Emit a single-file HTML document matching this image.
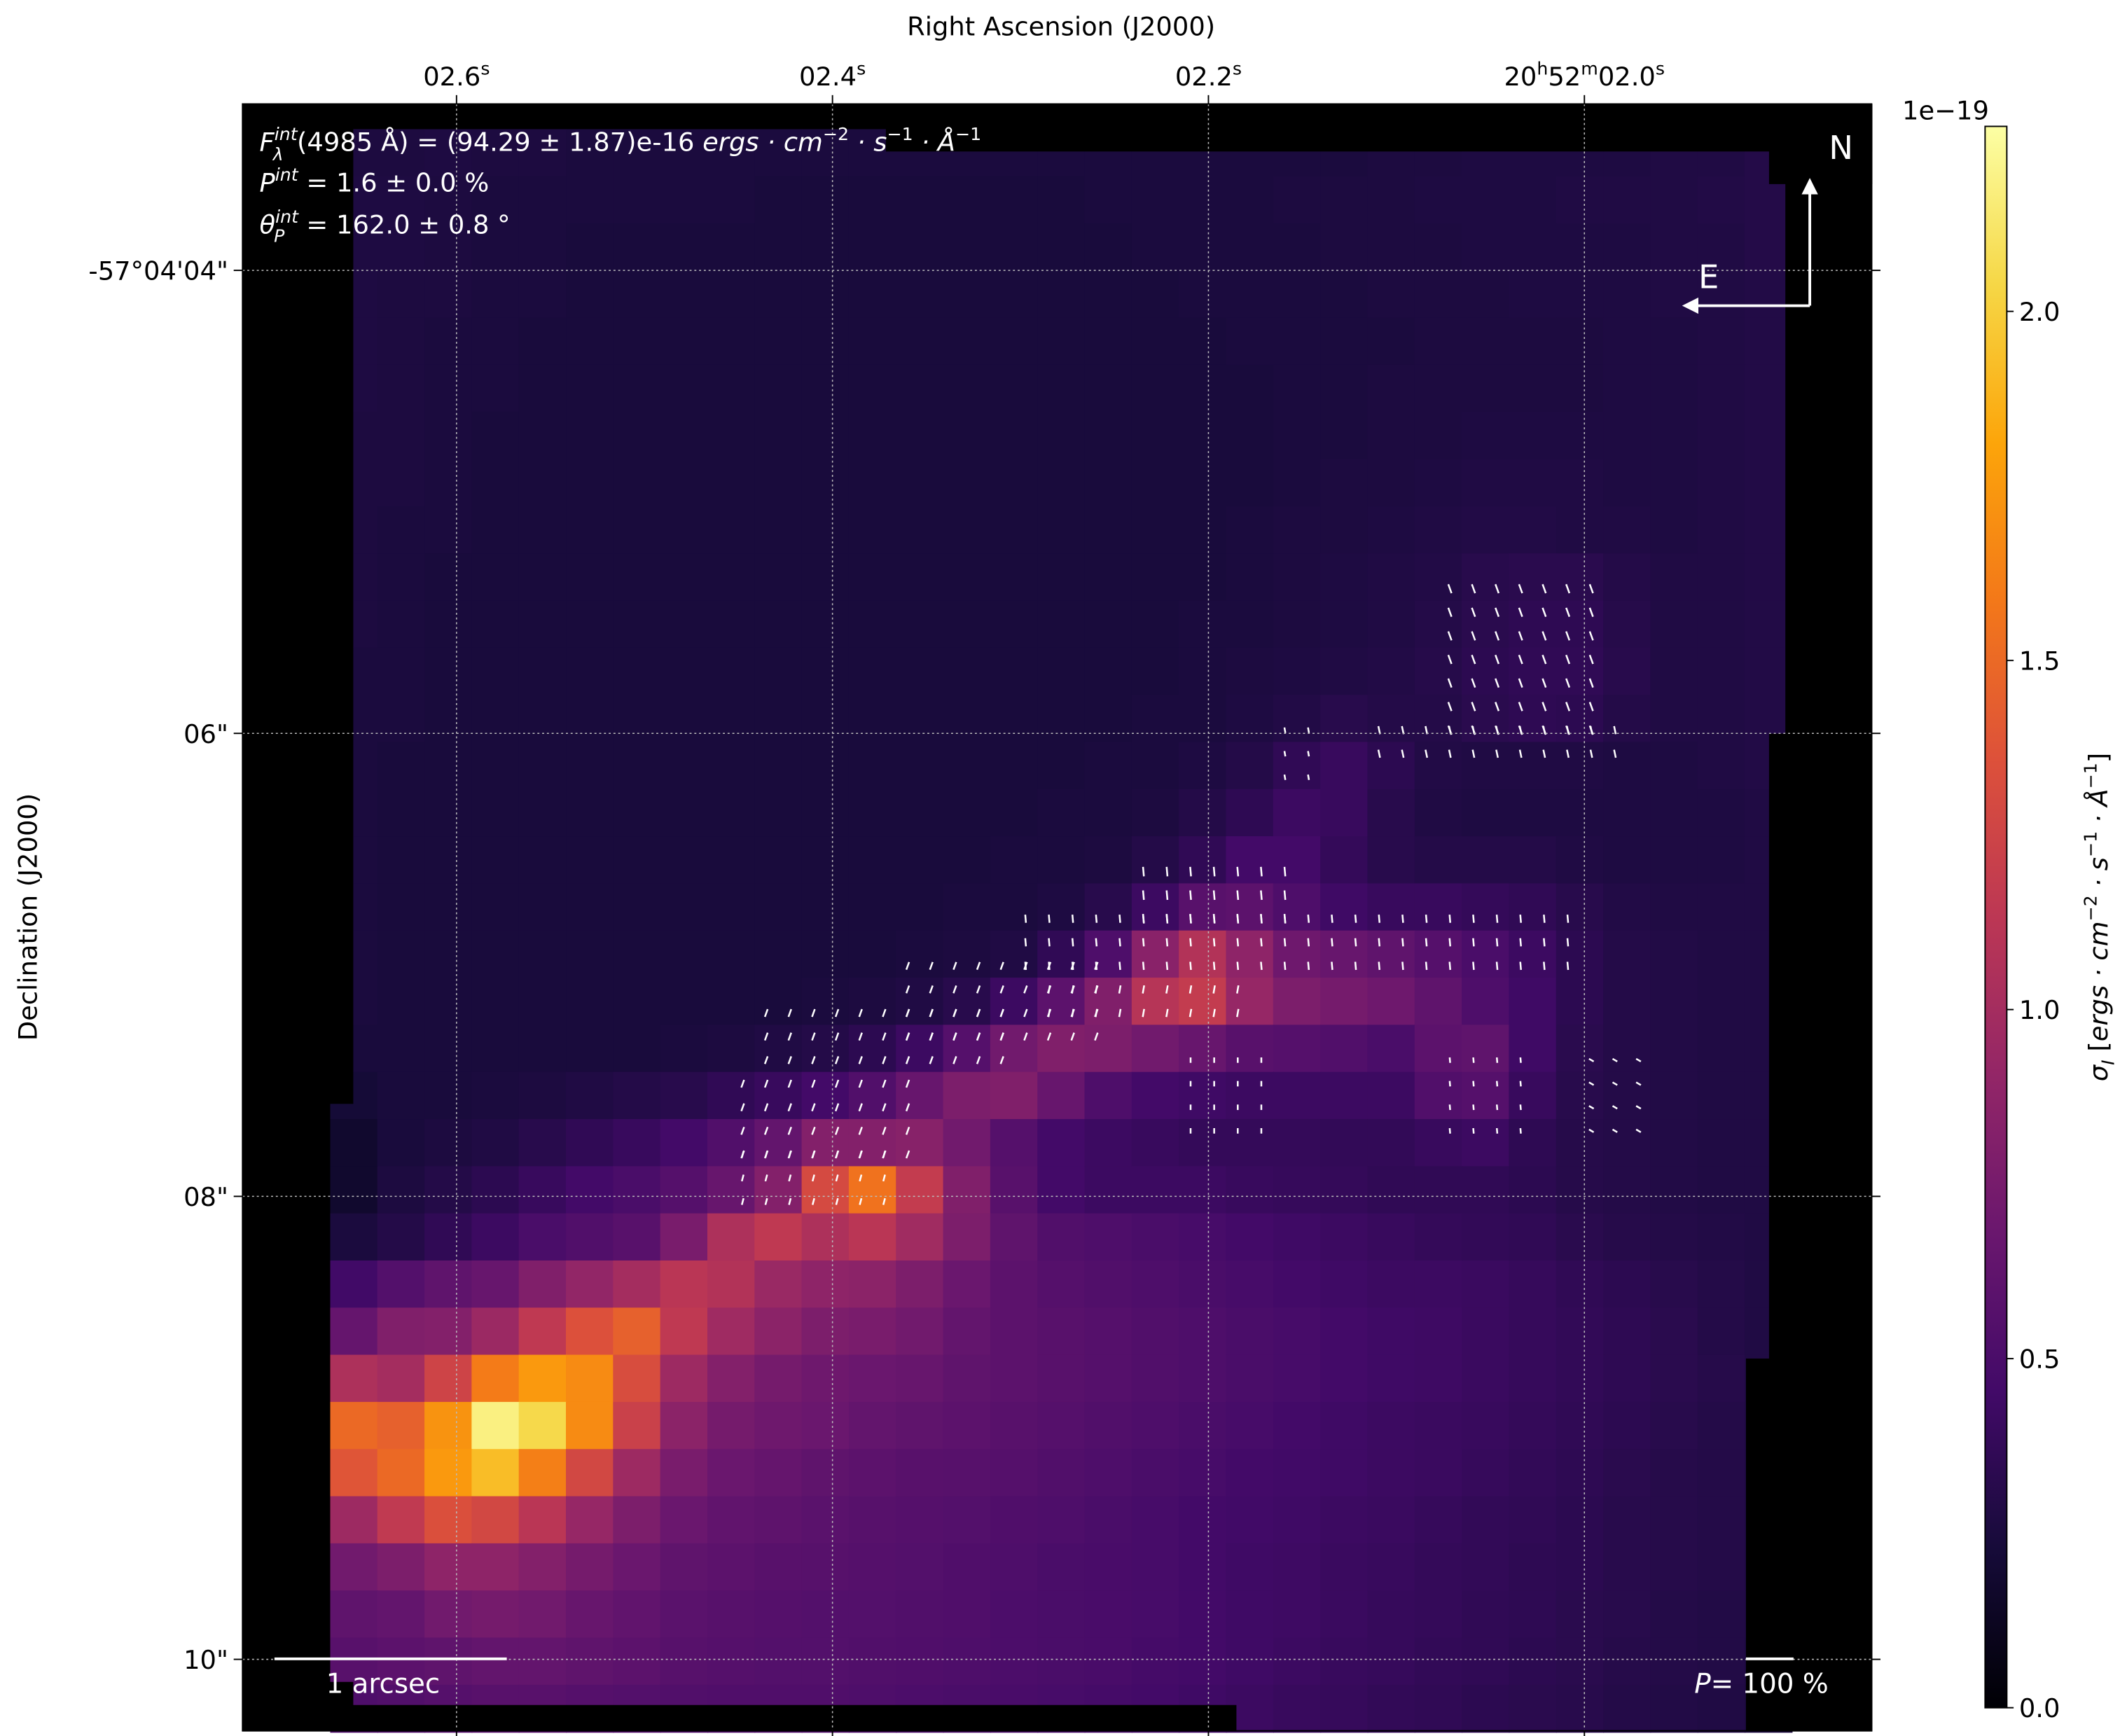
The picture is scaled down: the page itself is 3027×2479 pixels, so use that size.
<!DOCTYPE html>
<html><head><meta charset="utf-8"><style>
html,body{margin:0;padding:0;background:#fff;}
svg{display:block;font-family:"DejaVu Sans","Liberation Sans",sans-serif;}
</style></head><body>
<svg id="fig" width="3027" height="2479" viewBox="0 0 1560.3 1277.8" xmlns="http://www.w3.org/2000/svg">
<g id="cells"></g>
<g id="masks"></g>
<g id="vectors"></g>
<g id="grid"></g>
<g id="ticks"></g>
<g id="cbar"></g>
<g fill="#fff">
<text x="191" y="111" font-size="19"><tspan font-style="italic">F</tspan><tspan font-size="13" font-style="italic" dy="-8">int</tspan><tspan font-size="13" font-style="italic" dx="-18" dy="15">λ</tspan><tspan dy="-7" dx="10">(4985 Å) = (94.29 ± 1.87)e-16 </tspan><tspan font-style="italic">ergs · cm</tspan><tspan font-size="13" dy="-8">−2</tspan><tspan dy="8" font-style="italic"> · s</tspan><tspan font-size="13" dy="-8">−1</tspan><tspan dy="8" font-style="italic"> · Å</tspan><tspan font-size="13" dy="-8">−1</tspan></text>
<text x="191" y="141" font-size="19"><tspan font-style="italic">P</tspan><tspan font-size="13" font-style="italic" dy="-8">int</tspan><tspan dy="8"> = 1.6 ± 0.0 %</tspan></text>
<text x="191" y="172" font-size="19"><tspan font-style="italic">θ</tspan><tspan font-size="13" font-style="italic" dy="-8">int</tspan><tspan font-size="13" font-style="italic" dx="-18" dy="14">P</tspan><tspan dy="-6" dx="10"> = 162.0 ± 0.8 °</tspan></text>
<text x="1346" y="117" font-size="24">N</text>
<text x="1250" y="212" font-size="24">E</text>
<line x1="1332" y1="225" x2="1332" y2="142" stroke="#fff" stroke-width="2"/>
<polygon points="1332,131 1326,143 1338,143" fill="#fff"/>
<line x1="1332" y1="225" x2="1250" y2="225" stroke="#fff" stroke-width="2"/>
<polygon points="1238,225 1250,219 1250,231" fill="#fff"/>
<line x1="202" y1="1221" x2="373" y2="1221" stroke="#fff" stroke-width="2"/>
<text x="240" y="1246" font-size="20">1 arcsec</text>
<line x1="1285" y1="1221" x2="1320" y2="1221" stroke="#fff" stroke-width="2"/>
<text x="1247" y="1246" font-size="20"><tspan font-style="italic">P</tspan>= 100 %</text>
</g>
<rect x="178.5" y="76.5" width="1199" height="1197.5" fill="none" stroke="#000" stroke-width="1"/>
<text x="781" y="26" font-size="19" text-anchor="middle">Right Ascension (J2000)</text>
<text transform="translate(27,675) rotate(-90)" font-size="19" text-anchor="middle">Declination (J2000)</text>
<text transform="translate(1551,675) rotate(-90)" font-size="19" text-anchor="middle"><tspan font-style="italic">σ</tspan><tspan font-size="13" font-style="italic" dy="5">I</tspan><tspan dy="-5"> [</tspan><tspan font-style="italic">ergs · cm</tspan><tspan font-size="13" dy="-8">−2</tspan><tspan dy="8" font-style="italic"> · s</tspan><tspan font-size="13" dy="-8">−1</tspan><tspan dy="8" font-style="italic"> · Å</tspan><tspan font-size="13" dy="-8">−1</tspan><tspan dy="8">]</tspan></text>
<text x="1400" y="88" font-size="19">1e−19</text>
</svg>
<script>
// values in units of 1e-21 (0.01e-19); rows top->bottom, 31 columns
const sigmaRows = [
[26,26,27,26,26,25,25,25,25,25,25,25,25,25,25,25,25,25,25,25,25,25,26,26,27,27,27,27,28,28,30],
[27,27,26,25,25,25,25,25,25,24,24,24,24,24,24,24,25,25,25,25,26,26,26,27,27,27,28,28,28,29,30],
[27,27,26,25,25,24,24,24,24,24,24,24,24,24,24,24,24,25,25,25,25,26,26,26,27,27,27,27,28,28,30],
[27,26,26,25,25,24,24,24,24,24,24,24,24,24,24,24,24,24,25,25,25,25,26,26,26,27,27,27,28,28,29],
[27,26,25,25,24,24,24,24,24,24,24,24,24,24,24,24,24,24,24,25,25,25,25,26,26,26,26,27,27,28,29],
[27,26,25,25,24,24,24,24,24,24,24,24,24,24,24,24,24,24,24,24,25,25,26,26,26,26,26,27,27,28,29],
[26,26,25,24,24,24,24,24,24,24,24,24,24,24,24,24,24,24,24,24,25,25,26,26,27,27,27,27,27,28,29],
[26,26,25,24,24,24,24,24,24,24,24,24,24,24,24,24,24,24,24,24,25,26,26,27,28,28,28,27,27,28,29],
[26,25,25,24,24,24,24,24,24,24,24,24,24,24,24,24,24,24,24,25,26,26,27,28,29,29,28,28,27,28,29],
[26,25,24,24,24,24,24,24,24,24,24,24,24,24,24,24,24,24,24,25,26,27,28,29,32,33,33,30,28,28,29],
[26,25,24,24,24,24,24,24,24,24,24,24,24,24,24,24,24,24,25,25,26,27,28,30,33,35,35,31,28,28,29],
[25,25,24,24,24,24,24,24,24,24,24,24,24,24,24,24,24,24,25,26,27,28,29,31,34,36,36,32,28,28,29],
[25,25,24,24,24,24,24,24,24,24,24,24,24,24,24,24,24,25,25,27,29,32,30,30,33,35,34,30,28,28,29],
[25,24,24,24,24,24,24,24,24,24,24,24,24,24,24,24,25,25,27,30,36,40,34,29,28,28,28,27,27,28,29],
[25,24,24,24,24,24,24,24,24,24,24,24,24,24,24,25,25,26,30,35,42,40,32,28,27,27,27,27,27,27,28],
[25,24,24,24,24,24,24,24,24,24,24,24,24,24,25,25,26,30,36,46,46,38,32,30,30,30,28,27,27,27,28],
[25,24,24,24,24,24,24,24,24,24,24,24,24,25,25,27,32,42,58,60,52,44,40,40,38,36,32,29,28,28,28],
[25,24,24,24,24,24,24,24,24,24,24,24,25,26,28,36,52,85,108,88,70,66,62,56,50,42,34,30,29,28,28],
[25,24,24,24,24,24,24,24,24,24,25,26,28,32,42,60,80,110,118,92,78,74,70,62,52,44,34,30,29,28,28],
[24,24,24,24,24,24,24,25,26,28,30,34,42,56,72,80,78,72,66,58,56,54,50,60,62,44,33,30,29,28,28],
[22,24,24,25,26,28,30,32,36,40,46,54,66,78,80,66,52,46,44,42,42,42,42,54,56,40,32,30,29,28,28],
[18,24,26,28,32,36,40,46,54,64,82,82,84,72,56,46,42,40,38,38,38,37,37,40,42,35,31,30,29,28,28],
[18,26,30,34,40,46,50,56,66,82,130,155,118,80,58,46,42,42,42,40,39,38,36,36,36,34,31,30,29,28,28],
[25,30,36,42,50,54,58,76,105,115,105,112,98,78,62,54,52,50,48,46,44,42,40,38,37,36,33,31,30,29,28],
[45,55,62,66,80,90,100,112,108,94,88,86,78,68,60,56,54,52,50,48,46,44,42,42,41,39,36,34,32,30,28],
[65,80,82,95,115,135,145,115,97,86,78,76,72,64,60,58,56,54,52,50,48,46,44,43,41,39,37,35,33,30,28],
[105,100,125,160,175,168,132,96,82,74,70,68,66,62,60,58,56,54,52,50,48,46,44,43,41,39,37,35,33,31,28],
[150,145,172,218,205,168,122,86,74,70,68,64,62,60,58,56,54,52,50,48,46,44,42,41,40,38,36,34,32,30,28],
[138,150,175,192,162,128,96,76,68,65,62,60,58,57,56,54,52,50,48,46,45,44,42,41,39,37,35,33,31,30,28],
[96,116,134,128,112,92,78,68,63,61,59,57,56,55,53,52,50,48,46,45,44,42,41,39,37,36,34,32,31,30,28],
[72,78,88,88,82,74,68,62,60,58,57,56,55,53,52,50,49,48,46,44,43,41,40,38,37,35,34,32,31,30,28],
[62,64,72,74,72,66,63,59,57,56,55,55,54,53,51,50,49,48,46,44,43,41,39,38,36,35,33,32,30,29,28],
[58,60,62,64,64,62,60,57,56,55,55,54,53,52,51,50,49,47,46,44,42,40,39,37,36,34,33,31,30,29,27],
[52,54,56,58,58,56,55,54,53,53,53,52,51,50,49,48,47,46,44,42,40,39,37,36,34,33,32,30,29,28,26]
];
// polarization vector clusters, native-pixel grid indices [colStart,colEnd,rowStart,rowEnd,angleDeg,length]
const vecClusters = [
[47,53,19,25,-20,7],
[44,54,25,26,-12,6],
[40,41,25,27,-10,4],
[34,40,31,33,-5,7],
[29,52,33,35,-5,6],
[30,38,36,37,10,6],
[24,32,35,38,20,6],
[18,28,37,39,20,6],
[17,24,40,43,20,6],
[17,23,43,45,15,5],
[36,39,39,42,0,4],
[47,50,39,42,-5,4],
[53,55,39,42,-60,4]
];
const xTickLabels = ["02.6", "02.4", "02.2", "20h52m02.0"];
const xTickValues = [2.6, 2.4, 2.2, 2.0];
const yTickLabels = ["-57°04'04\"", "06\"", "08\"", "10\""];
const yTickValues = [4, 6, 8, 10];
const cbarTicks = [0.0, 0.5, 1.0, 1.5, 2.0];
const vmax = 2.265;

const NS = "http://www.w3.org/2000/svg";
function mk(tag, attrs, parent){const e=document.createElementNS(NS,tag);for(const k in attrs)e.setAttribute(k,attrs[k]);parent.appendChild(e);return e;}
const stops=["#000004","#160b39","#420a68","#6a176e","#932667","#bc3754","#dd513a","#f37819","#fca50a","#f6d746","#fcffa4"];
function hex(h){return [1,3,5].map(i=>parseInt(h.substr(i,2),16));}
function inferno(t){t=Math.max(0,Math.min(1,t));const p=t*10,i=Math.min(9,Math.floor(p)),f=p-i;const a=hex(stops[i]),b=hex(stops[i+1]);return "rgb("+a.map((v,k)=>Math.round(v+(b[k]-v)*f)).join(",")+")";}
const gx0=243, gy0=95, cw=34.7, ch=34.7;
const colX = c => gx0 + c*cw;
const rowY = r => gy0 + r*ch;
const pixX = c => gx0 + (c+0.5)*cw/2;
const pixY = r => gy0 + (r+0.5)*ch/2;
const raX = s => 336 + (2.6 - s)/0.2*276.7;
const decY = d => 199 + (d - 4)/2*340.8;
const cbY = v => 1257 - v/vmax*1164;

const cells=document.getElementById('cells');
mk('rect',{x:178.5,y:76.5,width:1199,height:1197.5,fill:'#000'},cells);
sigmaRows.forEach((row,r)=>row.forEach((v,c)=>{
  const e=mk('rect',{x:colX(c),y:rowY(r),width:cw+0.6,height:ch+0.6,fill:inferno(v/100/vmax)},cells);
  
  
}));
const masks=document.getElementById('masks');
[[178.5,76.5,64.5,1198],[243,76.5,17,736],[243,1238,17,36],[178.5,76.5,1199,18.5],[652,76.5,726,35],[1302,76.5,76,59],[1314,76.5,64,1198],[1302,540,76,734],[243,1255,667,19],[1285,1000,30,274]].forEach(m=>{
  mk('rect',{x:m[0],y:m[1],width:m[2],height:m[3],fill:'#000'},masks);
});
const vec=document.getElementById('vectors');
vecClusters.forEach(cl=>{
  for(let c=cl[0];c<=cl[1];c+=1){for(let r=cl[2];r<=cl[3];r+=1){
    const x=pixX(c), y=pixY(r), a=cl[4]*Math.PI/180, L=cl[5]/2;
    const dx=Math.sin(a)*L, dy=Math.cos(a)*L;
    const l=mk('line',{x1:x+dx,y1:y-dy,x2:x-dx,y2:y+dy,stroke:'#fff','stroke-width':1.3},vec);
    
    
  }}
});
const grid=document.getElementById('grid'), ticks=document.getElementById('ticks');
xTickValues.forEach((s,i)=>{
  const x=raX(s);
  mk('line',{x1:x,y1:76.5,x2:x,y2:1274,stroke:'#bbb','stroke-width':0.8,'stroke-dasharray':'1.5,2'},grid);
  mk('line',{x1:x,y1:1274,x2:x,y2:1280,stroke:'#000','stroke-width':1},ticks);
  mk('line',{x1:x,y1:70,x2:x,y2:76.5,stroke:'#000','stroke-width':1},ticks);
  const lab=xTickLabels[i];
  const t=mk('text',{x:x,y:63,'font-size':19,'text-anchor':'middle',fill:'#000'},ticks);
  
  
  if(lab.startsWith('20h')){t.innerHTML='20<tspan font-size="13" dy="-8">h</tspan><tspan dy="8">52</tspan><tspan font-size="13" dy="-8">m</tspan><tspan dy="8">02.0</tspan><tspan font-size="13" dy="-8">s</tspan>';}
  else{t.innerHTML=lab+'<tspan font-size="13" dy="-8">s</tspan>';}
});
yTickValues.forEach((d,i)=>{
  const y=decY(d);
  mk('line',{x1:178.5,y1:y,x2:1377.5,y2:y,stroke:'#bbb','stroke-width':0.8,'stroke-dasharray':'1.5,2'},grid);
  mk('line',{x1:172,y1:y,x2:178.5,y2:y,stroke:'#000','stroke-width':1},ticks);
  mk('line',{x1:1377.5,y1:y,x2:1384,y2:y,stroke:'#000','stroke-width':1},ticks);
  const t=mk('text',{x:168,y:y+7,'font-size':19,'text-anchor':'end',fill:'#000'},ticks);
  
  
  t.textContent=yTickLabels[i];
});
const cb=document.getElementById('cbar');
const defs=mk('defs',{},cb);
const lg=mk('linearGradient',{id:'cg',x1:0,y1:1,x2:0,y2:0},defs);
stops.forEach((s,i)=>mk('stop',{offset:(i/10),'stop-color':s},lg));
mk('rect',{x:1461,y:93,width:16,height:1164,fill:'url(#cg)',stroke:'#000','stroke-width':1},cb);
cbarTicks.forEach(v=>{
  const y=cbY(v);
  mk('line',{x1:1477,y1:y,x2:1482,y2:y,stroke:'#000','stroke-width':1},cb);
  const t=mk('text',{x:1486,y:y+7,'font-size':19,fill:'#000'},cb);
  
  
  t.textContent=v.toFixed(1);
});
</script>
</body></html>
